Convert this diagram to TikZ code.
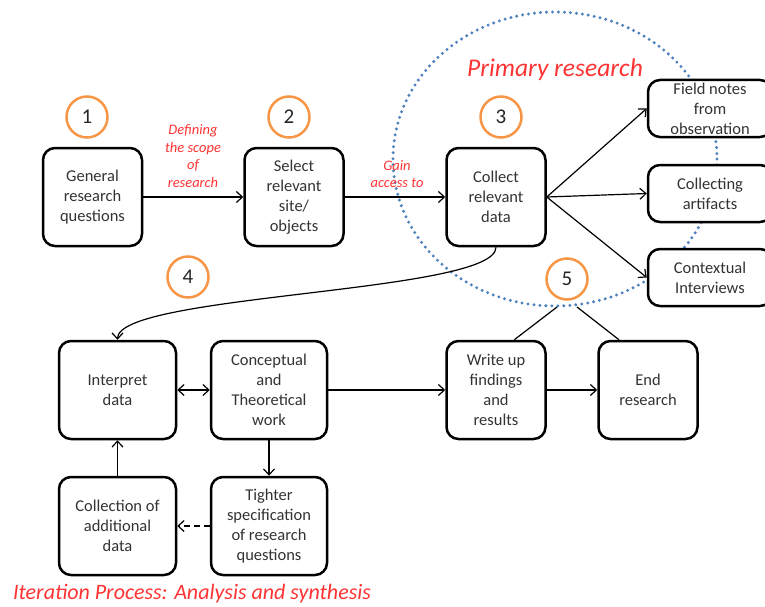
\documentclass[tikz,border=0pt]{standalone}
\usepackage{fontspec}
\setmainfont{Carlito}
\usetikzlibrary{arrows.meta}
\definecolor{ringorange}{HTML}{F79646}
\definecolor{dotblue}{HTML}{4F81BD}
\definecolor{notered}{HTML}{FF3333}

\begin{document}
\begin{tikzpicture}[x=1pt,y=-1pt, line width=1.2pt,
    >={Straight Barb[length=6pt,width=11pt]},
    box/.style={draw, line width=2.5pt, rounded corners=12pt, fill=white, align=center,
      minimum width=99pt, minimum height=98pt, inner sep=1pt, text=black!80,
      font=\fontsize{16.5}{20}\selectfont},
    side/.style={box, minimum width=124pt, minimum height=57pt, inner sep=0pt},
    num/.style={circle, draw=ringorange, line width=2.5pt, minimum size=41pt, inner sep=0pt,
      text=black!85, font=\fontsize{21}{24}\selectfont},
    note/.style={text=notered, align=center, inner sep=0pt,
      font=\fontsize{14.5}{17.5}\selectfont\itshape}]
  \clip (0,0) rectangle (765,607);
  % primary research area
  \draw[dotblue, line width=3.3pt, line cap=round, dash pattern=on 0pt off 6pt]
    (555,159) ellipse [x radius=162, y radius=147];
  % boxes
  \node[box] (Gen) at (92.5,197) {General\\research\\questions};
  \node[box] (Sel) at (294,197) {Select\\relevant\\site/\\objects};
  \node[box] (Col) at (496,197) {Collect\\relevant\\data};
  \node[side] (Fld) at (710,108.5) {Field notes\\from\\observation};
  \node[side] (Art) at (710,193.5) {Collecting\\artifacts};
  \node[side] (Ctx) at (710,277.5) {Contextual\\Interviews};
  \node[box, minimum width=117pt] (Int) at (117.5,390) {Interpret\\data};
  \node[box, minimum width=116pt] (Con) at (269,390) {Conceptual\\and\\Theoretical\\work};
  \node[box, minimum width=117pt] (Add) at (117.5,526) {Collection of\\additional\\data};
  \node[box, minimum width=116pt] (Tig) at (269,526) {Tighter\\specification\\of research\\questions};
  \node[box] (Wri) at (496,390) {Write up\\findings\\and\\results};
  \node[box] (End) at (648,390) {End\\research};
  % step numbers
  \node[num] (N1) at (87,117) {1};
  \node[num] (N2) at (289,117) {2};
  \node[num] (N3) at (501,117) {3};
  \node[num] (N4) at (188,277) {4};
  \node[num] (N5) at (567,279) {5};
  % labels
  \node[note] (Scope) at (193,156) {Defining\\the scope\\of\\research};
  \node[note] (Gain) at (397,174) {Gain\\access to};
  \node[note, font=\fontsize{25.5}{28}\selectfont\itshape] (Prim) at (555,70) {Primary research};
  \node[note, font=\fontsize{22}{24}\selectfont\itshape] (Iter) at (192,594)
    {Iteration Process: Analysis and synthesis};
  % connectors
  \draw[->] (Gen) -- (Sel);
  \draw[->] (Sel) -- (Col);
  \draw[->] (Col.east) -- (Fld.west);
  \draw[->] (Col.east) -- (Art.west);
  \draw[->] (Col.east) -- (Ctx.west);
  \draw[->] (Col.south) .. controls +(0,46) and +(0,-46) .. (Int.north);
  \draw[<->] (Int) -- (Con);
  \draw[->] (Con) -- (Wri);
  \draw[->] (Wri) -- (End);
  \draw[->] (Con) -- (Tig);
  \draw[->, dash pattern=on 6pt off 4pt] (Tig) -- (Add);
  \draw[->] (Add) -- (Int);
  \coordinate (P1) at (557,307);
  \coordinate (P2) at (577,307);
  \draw (P1) -- (Wri.70);
  \draw (P2) -- (End.120);
\end{tikzpicture}
\end{document}
